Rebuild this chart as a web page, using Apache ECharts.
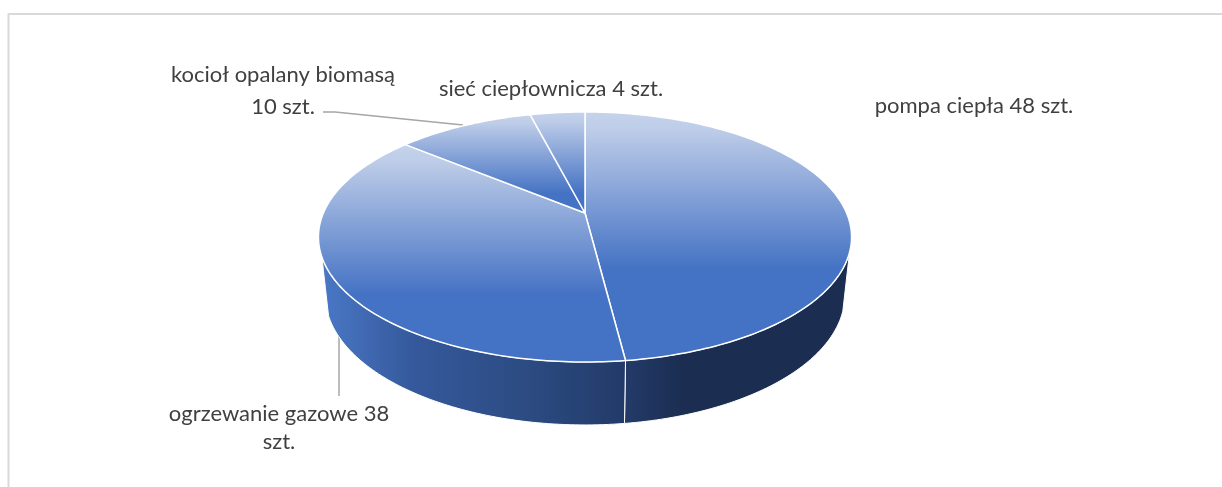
<!DOCTYPE html>
<html>
<head>
<meta charset="utf-8">
<style>html,body{margin:0;padding:0;background:#fff}#main{width:1222px;height:487px}</style>
<script src="https://cdn.jsdelivr.net/npm/echarts@6/dist/echarts.min.js"></script>
</head>
<body>
<div id="main"></div>
<script>
var categories = ['pompa ciepła', 'ogrzewanie gazowe', 'kocioł opalany biomasą', 'sieć ciepłownicza']
var values = [48, 38, 10, 4]
var unit = 'szt.'

// where the top colour stops fading for each slice (share of slice height)
var topStops = [0.63, 0.69, 0.8, 0.8]
var wallStops = [
    [{ offset: 0, color: '#243b69' }, { offset: 0.25, color: '#1b2e52' }, { offset: 1, color: '#1b2d50' }],
    [{ offset: 0, color: '#4a78c6' }, { offset: 0.3, color: '#35599c' }, { offset: 0.7, color: '#2b4a80' }, { offset: 1, color: '#223a68' }]
]

// perspective of the disc
var K = 0.192
var topDisc = { cx: 585, y0: 213, a: 261.6, b: 120.4 }
var baseDisc = { cx: 585, y0: 270, a: 255, b: 125.2 }
// part of the rim that faces the viewer, degrees clockwise from the top
var RIM_FROM = 108
var RIM_TO = 250

var total = values.reduce(function (a, b) { return a + b }, 0)

function project(disc, deg) {
    var t = deg * Math.PI / 180
    var u = Math.sin(t)
    var v = Math.cos(t)
    var w = 1 + K * v
    return [disc.cx + disc.a * u / w, disc.y0 - disc.b * v / w]
}

function arc(disc, from, to) {
    var pts = []
    var n = Math.max(2, Math.ceil(Math.abs(to - from)))
    for (var i = 0; i <= n; i++) {
        pts.push(project(disc, from + (to - from) * i / n))
    }
    return pts
}

function sliceRange(index) {
    var before = 0
    for (var i = 0; i < index; i++) before += values[i]
    return [before / total * 360, (before + values[index]) / total * 360]
}

function renderWall(params, api) {
    var r = sliceRange(params.dataIndex)
    var from = Math.max(r[0], RIM_FROM)
    var to = Math.min(r[1], RIM_TO)
    if (to <= from) return null
    var pts = arc(topDisc, from, to).concat(arc(baseDisc, to, from))
    return {
        type: 'polygon',
        shape: { points: pts },
        style: {
            fill: new echarts.graphic.LinearGradient(0, 0, 1, 0, wallStops[params.dataIndex]),
            stroke: '#fff',
            lineWidth: 1
        }
    }
}

function renderTop(params, api) {
    var r = sliceRange(params.dataIndex)
    var pts = [[topDisc.cx, topDisc.y0]].concat(arc(topDisc, r[0], r[1]))
    var stop = topStops[params.dataIndex]
    return {
        type: 'polygon',
        shape: { points: pts },
        style: {
            fill: new echarts.graphic.LinearGradient(0, 0, 0, 1, [
                { offset: 0, color: '#c6d3eb' },
                { offset: stop * 0.12, color: '#bdcce8' },
                { offset: stop, color: '#4472c4' },
                { offset: 1, color: '#4472c4' }
            ]),
            stroke: '#fff',
            lineWidth: 1.5,
            lineJoin: 'round'
        }
    }
}

var labelStyle = { font: '22px Lato', fill: '#404040', textAlign: 'center', textVerticalAlign: 'middle' }

function label(x, y, text) {
    return { type: 'text', x: x, y: y, silent: true, style: Object.assign({ text: text }, labelStyle) }
}

function leader(points) {
    return {
        type: 'polyline',
        silent: true,
        shape: { points: points },
        style: { stroke: '#a6a6a6', lineWidth: 1.5, fill: null }
    }
}

var chart = echarts.init(document.getElementById('main'), null, { renderer: 'canvas' })
chart.setOption({
    animation: false,
    backgroundColor: '#fff',
    graphic: [
        { type: 'polyline', silent: true, shape: { points: [[8.5, 487], [8.5, 14], [1222, 14]] }, style: { stroke: '#d9d9d9', lineWidth: 2, fill: null } },
        leader([[323, 112], [335, 112], [463, 125]]),
        leader([[339, 336], [339, 396]]),
        label(974, 106, categories[0] + ' ' + values[0] + ' ' + unit),
        label(551, 89, categories[3] + ' ' + values[3] + ' ' + unit),
        label(283, 75, categories[2]),
        label(283, 107, values[2] + ' ' + unit),
        label(279, 414, categories[1] + ' ' + values[1]),
        label(279, 442, unit)
    ],
    series: [
        { type: 'custom', coordinateSystem: 'none', renderItem: renderWall, data: values, silent: true, z: 1 },
        { type: 'custom', coordinateSystem: 'none', renderItem: renderTop, data: values, silent: true, z: 2 }
    ]
})
</script>
</body>
</html>
